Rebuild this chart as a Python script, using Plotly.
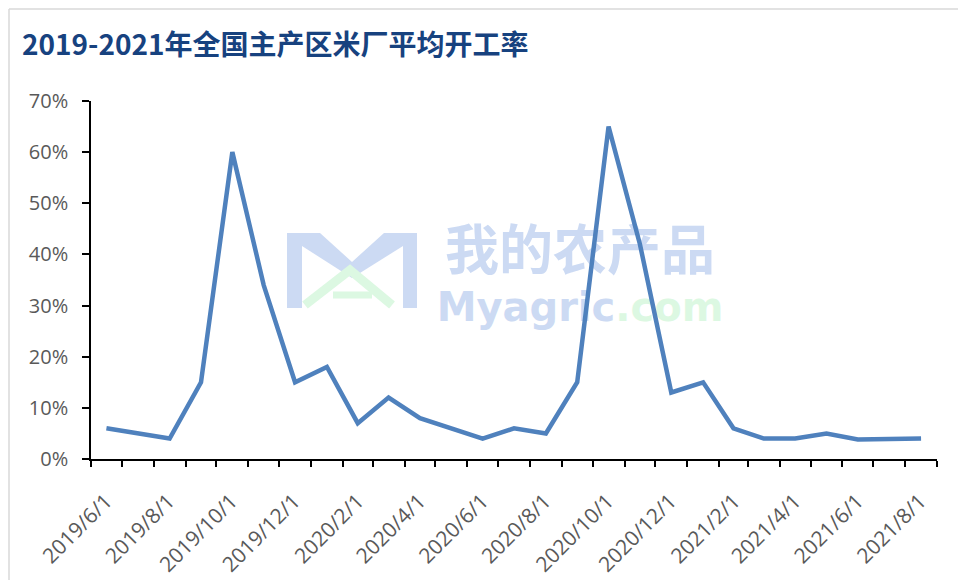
import plotly.graph_objects as go

# ---- data ----
months = ["2019-06-01", "2019-08-01", "2019-09-01", "2019-10-01", "2019-11-01",
          "2019-12-01", "2020-01-01", "2020-02-01", "2020-03-01", "2020-04-01",
          "2020-06-01", "2020-07-01", "2020-08-01", "2020-09-01", "2020-10-01",
          "2020-11-01", "2020-12-01", "2021-01-01", "2021-02-01", "2021-03-01",
          "2021-04-01", "2021-05-01", "2021-06-01", "2021-07-01", "2021-08-01"]
rate_pct = [6, 4, 15, 60, 34,
            15, 18, 7, 12, 8,
            4, 6, 5, 15, 65,
            42, 13, 15, 6, 4,
            4, 5, 3.8, 4, 4]
title_text = "2019-2021年全国主产区米厂平均开工率"

# ---- layout helpers (pixel -> paper) ----
L, R, T, B = 91, 937, 101, 459
def px(x):
    return (x - L) / (R - L)
def py(y):
    return (B - y) / (B - T)

fig = go.Figure()
fig.add_trace(go.Scatter(
    x=months, y=rate_pct, mode="lines",
    xperiod="M1", xperiodalignment="middle",
    line=dict(color="#4F81BD", width=4.5),
    hoverinfo="x+y",
))

tick_font = dict(family="Open Sans, DejaVu Sans, sans-serif", size=20, color="#595959")
xtick_font = dict(family="Open Sans, DejaVu Sans, sans-serif", size=21, color="#595959")

fig.update_layout(
    width=958, height=580,
    paper_bgcolor="white", plot_bgcolor="white",
    margin=dict(l=L, r=958 - R, t=T, b=580 - B, autoexpand=False),
    showlegend=False,
    title=dict(text=title_text, x=22 / 958, xanchor="left", y=1 - 45 / 580, yanchor="middle",
               xref="container", yref="container",
               font=dict(family="Noto Sans CJK SC", size=28, color="#17427F", weight="bold")),
    xaxis=dict(
        type="date", range=["2019-06-01", "2021-09-01"],
        tick0="2019-06-01", dtick="M2", tickformat="%Y/%-m/%-d",
        tickangle=-45, tickfont=xtick_font, automargin=False,
        ticks="outside", ticklen=6, tickwidth=1.5, tickcolor="black",
        minor=dict(dtick="M1", tick0="2019-06-01", ticks="outside", ticklen=6,
                   tickwidth=1.5, tickcolor="black", showgrid=False),
        showline=True, linecolor="black", linewidth=1.5,
        showgrid=False, zeroline=False,
        ticklabelshift=15, ticklabelstandoff=14,
    ),
    yaxis=dict(
        range=[0, 70], dtick=10, ticksuffix="%", tickfont=tick_font, automargin=False,
        ticks="outside", ticklen=7, tickwidth=1.5, tickcolor="black",
        showline=True, linecolor="black", linewidth=1.5,
        showgrid=False, zeroline=False, ticklabelstandoff=10,
    ),
)

# frame lines (top and left edges of chart area)
fig.add_shape(type="line", xref="paper", yref="paper", x0=px(9), x1=px(958), y0=py(9), y1=py(9),
              line=dict(color="#D9D9D9", width=1.5), layer="below")
fig.add_shape(type="line", xref="paper", yref="paper", x0=px(9), x1=px(9), y0=py(9), y1=py(580),
              line=dict(color="#D9D9D9", width=1.5), layer="below")

# watermark logo (below data)
m_path = ("M {a},{b} L {c},{b} L {d},{e} L {f},{b} L {g},{b} L {g},{h} L {i},{h} L {i},{j} "
          "L {d},{k} L {l},{j} L {l},{h} L {a},{h} Z").format(
    a=px(287), b=py(233), c=px(320), d=px(352), e=py(262), f=px(384), g=px(417),
    h=py(308), i=px(403), j=py(246), k=py(278), l=px(302))
fig.add_shape(type="path", xref="paper", yref="paper", path=m_path,
              fillcolor="#CCDAF3", line=dict(width=0), layer="below")
a_path = "M {a},{b} L {c},{d} L {e},{b}".format(a=px(305), b=py(305), c=px(350), d=py(270), e=px(392))
fig.add_shape(type="path", xref="paper", yref="paper", path=a_path,
              line=dict(color="#DCF8E2", width=9), layer="below")
fig.add_shape(type="line", xref="paper", yref="paper", x0=px(333), x1=px(372), y0=py(295), y1=py(295),
              line=dict(color="#DCF8E2", width=7), layer="below")

# watermark text via shape labels (drawn below data)
fig.add_shape(type="rect", xref="paper", yref="paper", x0=px(435), x1=px(725), y0=py(280), y1=py(230),
              line=dict(width=0), fillcolor="rgba(0,0,0,0)", layer="below",
              label=dict(text="我的农产品", font=dict(family="Noto Sans CJK SC", size=54, color="#CCDAF3",
                                                 weight="bold"),
                         textposition="middle center"))
fig.add_shape(type="rect", xref="paper", yref="paper", x0=px(435), x1=px(725), y0=py(326), y1=py(282),
              line=dict(width=0), fillcolor="rgba(0,0,0,0)", layer="below",
              label=dict(text="Myagric<span style='color:#DCF8E2'>.com</span>",
                         font=dict(family="DejaVu Sans", size=40, color="#CCDAF3", weight="bold"),
                         textposition="middle center"))

fig.write_html("out.html", config={"displayModeBar": False},
               post_script="document.body.style.margin='0';")
